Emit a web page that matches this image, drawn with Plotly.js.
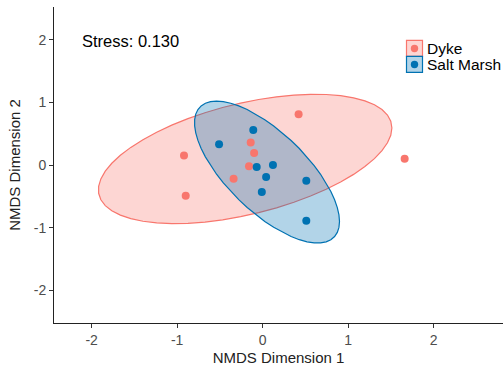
<!DOCTYPE html>
<html><head><meta charset="utf-8">
<script src="https://cdn.plot.ly/plotly-3.0.1.min.js"></script>
<style>html,body{margin:0;padding:0;background:#fff}#chart{width:504px;height:370px}</style>
</head><body><div id="chart"></div>
<script>
// ---- data ----
const groups = ["Dyke", "Salt Marsh"];
const colors = ["#F8766D", "#0072B2"];
const fills = ["rgba(248,118,109,0.3)", "rgba(0,114,178,0.3)"];
const dykeX = [0.42, -0.92, -0.90, -0.14, -0.10, -0.16, -0.34, 1.66];
const dykeY = [0.81, 0.15, -0.49, 0.36, 0.19, -0.02, -0.22, 0.10];
const marshX = [-0.11, -0.51, -0.07, 0.12, 0.04, -0.01, 0.51, 0.51];
const marshY = [0.56, 0.33, -0.03, 0.00, -0.19, -0.43, -0.25, -0.89];
const stressLabel = "Stress: 0.130";
const xTicks = [-2, -1, 0, 1, 2];
const yTicks = [-2, -1, 0, 1, 2];

// ---- robust t covariance (MASS::cov.trob) as used by ggplot2 stat_ellipse ----
function covTrob(xs, ys) {
  const n = xs.length, nu = 5, p = 2;
  const sum = a => a.reduce((s, v) => s + v, 0);
  let w = new Array(n).fill(1);
  let lx = sum(xs) / n, ly = sum(ys) / n;
  let Xx = [], Xy = [];
  for (let it = 0; it < 25; it++) {
    const w0 = w.slice();
    Xx = xs.map(v => v - lx); Xy = ys.map(v => v - ly);
    const sw = sum(w);
    let a = 0, b = 0, c = 0;
    for (let i = 0; i < n; i++) { a += w[i]*Xx[i]*Xx[i]/sw; b += w[i]*Xx[i]*Xy[i]/sw; c += w[i]*Xy[i]*Xy[i]/sw; }
    const det = a*c - b*b;
    w = Xx.map((x, i) => (nu + p) / (nu + (c*x*x - 2*b*x*Xy[i] + a*Xy[i]*Xy[i]) / det));
    const sw2 = sum(w);
    lx = sum(xs.map((v, i) => v*w[i])) / sw2;
    ly = sum(ys.map((v, i) => v*w[i])) / sw2;
    if (w.every((v, i) => Math.abs(v - w0[i]) < 0.01)) break;
  }
  let a = 0, b = 0, c = 0;
  for (let i = 0; i < n; i++) { a += w[i]*Xx[i]*Xx[i]/n; b += w[i]*Xx[i]*Xy[i]/n; c += w[i]*Xy[i]*Xy[i]/n; }
  return {cx: lx, cy: ly, a, b, c};
}
function ellipse(xs, ys, level) {
  const t = covTrob(xs, ys);
  const d = xs.length - 1;
  const f = (d / 2) * (Math.pow(1 - level, -2 / d) - 1); // qf(level, 2, d)
  const r = Math.sqrt(2 * f);
  const r11 = Math.sqrt(t.a), r12 = t.b / r11, r22 = Math.sqrt(t.c - r12*r12);
  const ex = [], ey = [];
  const seg = 51;
  for (let k = 0; k <= seg; k++) {
    const th = k * 2 * Math.PI / seg;
    const u = Math.cos(th), v = Math.sin(th);
    ex.push(t.cx + r * (u * r11));
    ey.push(t.cy + r * (u * r12 + v * r22));
  }
  return {ex, ey};
}

const data = [[dykeX, dykeY], [marshX, marshY]];
const traces = [];
data.forEach((d, g) => {
  const e = ellipse(d[0], d[1], 0.95);
  traces.push({x: e.ex, y: e.ey, type: "scatter", mode: "lines", fill: "toself",
    fillcolor: fills[g], line: {color: colors[g], width: 1.2}, showlegend: false, hoverinfo: "skip"});
});
data.forEach((d, g) => {
  traces.push({x: d[0], y: d[1], type: "scatter", mode: "markers", name: groups[g],
    marker: {color: colors[g], size: 8}, showlegend: false});
});

// manual ggplot-style legend
const shapes = [], annotations = [];
const lx0 = 406.5, lsz = 16, ly0 = 40.5, plotL = 54, plotW = 449, plotT = 7, plotH = 316.3;
const px = x => (x - plotL) / plotW, py = y => 1 - (y - plotT) / plotH;
groups.forEach((g, i) => {
  const y0 = ly0 + i * lsz;
  shapes.push({type: "rect", xref: "paper", yref: "paper", x0: px(lx0), x1: px(lx0 + lsz), y0: py(y0 + lsz), y1: py(y0),
    fillcolor: fills[i], line: {color: colors[i], width: 1.2}});
  shapes.push({type: "circle", xref: "paper", yref: "paper", x0: px(lx0 + lsz/2 - 3.7), x1: px(lx0 + lsz/2 + 3.7),
    y0: py(y0 + lsz/2 + 3.7), y1: py(y0 + lsz/2 - 3.7), fillcolor: colors[i], line: {width: 0}});
  annotations.push({xref: "paper", yref: "paper", x: px(lx0 + lsz + 2), y: py(y0 + lsz/2), text: g,
    showarrow: false, xanchor: "left", yanchor: "middle", font: {size: 15.5, color: "#000"}});
});
annotations.push({xref: "paper", yref: "paper", x: px(80), y: py(41), text: stressLabel, showarrow: false,
  xanchor: "left", yanchor: "middle", font: {size: 16.5, color: "#000"}});

const layout = {
  width: 504, height: 370,
  margin: {l: 54, r: 1, t: 7, b: 47},
  paper_bgcolor: "#fff", plot_bgcolor: "#fff",
  font: {family: "Liberation Sans, Arial, sans-serif", color: "#000"},
  xaxis: {range: [-2.44, 2.81], tickvals: xTicks, ticktext: xTicks.map(String), showgrid: false, zeroline: false,
    showline: true, linecolor: "#222", linewidth: 1, ticks: "outside", ticklen: 4, tickcolor: "#333",
    tickfont: {size: 14, color: "#4d4d4d"}, title: {text: "NMDS Dimension 1", font: {size: 15, color: "#222"}, standoff: 5}},
  yaxis: {range: [-2.52, 2.52], tickvals: yTicks, ticktext: yTicks.map(String), showgrid: false, zeroline: false,
    showline: true, linecolor: "#222", linewidth: 1, ticks: "outside", ticklen: 4, tickcolor: "#333",
    tickfont: {size: 14, color: "#4d4d4d"}, title: {text: "NMDS Dimension 2", font: {size: 15, color: "#222"}, standoff: 9}},
  shapes, annotations, showlegend: false
};
Plotly.newPlot("chart", traces, layout, {displayModeBar: false, staticPlot: true});
</script></body></html>
